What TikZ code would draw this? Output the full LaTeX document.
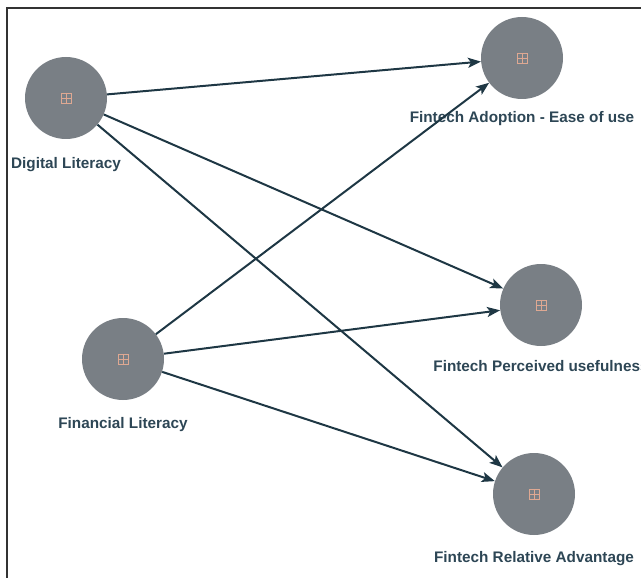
\documentclass[tikz,border=0pt]{standalone}
\usepackage{fontspec}
\setmainfont{Liberation Sans}
\usetikzlibrary{positioning}
\usetikzlibrary{arrows.meta}

\definecolor{latgray}{RGB}{121,127,133}
\definecolor{linkdark}{RGB}{30,55,68}
\definecolor{lbltext}{RGB}{45,70,85}
\definecolor{iconpeach}{RGB}{222,168,146}

\tikzset{
	latent/.style={circle,fill=latgray,minimum size=82pt,inner sep=0pt},
	lbl/.style={font=\fontsize{15.3}{18}\selectfont\bfseries,text=lbltext,inner sep=0pt},
	link/.style={draw=linkdark,line width=2pt,-{Stealth[length=13pt,width=10pt,inset=3pt]}},
	icon/.style={draw=iconpeach,line width=0.8pt}
}

\begin{document}
\begin{tikzpicture}[x=1pt,y=-1pt]
		%Page
			\useasboundingbox (0,0) rectangle (641,578);
			\clip (0,0) rectangle (641,578);
			\draw[line width=2pt,black!80] (7,578) -- (7,8) -- (641,8);
		%Constructs
			\node[latent] (dl) at (66,98) {};
			\node[latent] (fl) at (123,359) {};
			\node[latent] (fa) at (522,58) {};
			\node[latent] (fp) at (541,305) {};
			\node[latent] (fr) at (534,494) {};
		%Labels
			\node[lbl,below=18pt of dl] (dl-text) {Digital Literacy};
			\node[lbl,below=17pt of fl] (fl-text) {Financial Literacy};
			\node[lbl,below=12pt of fa] (fa-text) {Fintech Adoption - Ease of use};
			\node[lbl,below=14pt of fp] (fp-text) {Fintech Perceived usefulness};
			\node[lbl,below=16pt of fr] (fr-text) {Fintech Relative Advantage};
		%Icons
			\foreach \n in {dl,fl,fa,fp,fr}
			{
				\draw[icon] ([shift={(-5,-5)}]\n.center) rectangle ([shift={(5,5)}]\n.center);
				\draw[icon] ([shift={(-5,0)}]\n.center) -- ([shift={(5,0)}]\n.center);
				\draw[icon] ([shift={(0,-5)}]\n.center) -- ([shift={(0,5)}]\n.center);
			}
		%Paths
			\foreach \a/\b in {dl/fa,dl/fp,dl/fr,fl/fa,fl/fp,fl/fr}
			{
				\draw[link] (\a) -- (\b);
			}
	\end{tikzpicture}
\end{document}
